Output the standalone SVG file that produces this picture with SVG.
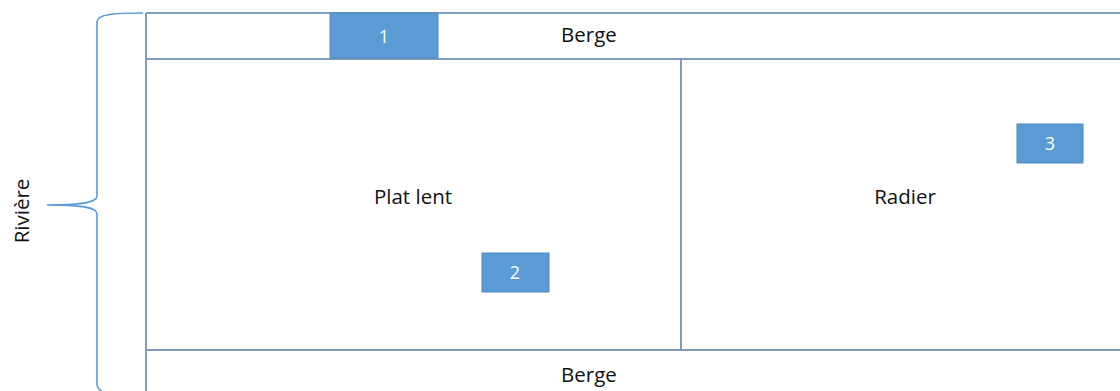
<svg xmlns="http://www.w3.org/2000/svg" width="1120" height="391" viewBox="0 0 1120 391">
<style>
.ln{stroke:#7F9CBC;stroke-width:2;fill:none}
.box{fill:#5B9BD5;stroke:#4F87BF;stroke-width:1}
.lbl{font-family:"Open Sans","Liberation Sans",sans-serif;font-size:20.5px;fill:#111;text-anchor:middle}
.num{font-family:"Open Sans","Liberation Sans",sans-serif;font-size:18px;fill:#fff;text-anchor:middle}
</style>
<rect width="1120" height="391" fill="#fff"/>
<g id="structure">
<line class="ln" x1="146" y1="13" x2="1120" y2="13"/>
<line class="ln" x1="146" y1="13" x2="146" y2="391"/>
<line class="ln" x1="146" y1="59" x2="1120" y2="59"/>
<line class="ln" x1="146" y1="350" x2="1120" y2="350"/>
<line class="ln" x1="681" y1="59" x2="681" y2="350"/>
</g>
<g id="brace">
<path d="M143,13 C115,13 97,14 97,22 L97,196 C97,203 80,205 47,205 C80,205 97,207 97,214 L97,383 C97,388 99,390 102,391" fill="none" stroke="#5B9BD5" stroke-width="1.6"/>
</g>
<g id="berge-top"><text class="lbl" x="589" y="42">Berge</text></g>
<g id="plat-lent"><text class="lbl" x="413" y="204">Plat lent</text></g>
<g id="radier"><text class="lbl" x="905" y="204">Radier</text></g>
<g id="berge-bottom"><text class="lbl" x="589" y="382">Berge</text></g>
<g id="riviere"><text class="lbl" transform="translate(29,211) rotate(-90)">Rivière</text></g>
<g id="n1"><rect class="box" x="330" y="13" width="108" height="45"/><text class="num" x="384" y="43">1</text></g>
<g id="n2"><rect class="box" x="482" y="253" width="67" height="39"/><text class="num" x="515" y="279">2</text></g>
<g id="n3"><rect class="box" x="1017" y="124" width="66" height="39"/><text class="num" x="1050" y="150">3</text></g>
</svg>
